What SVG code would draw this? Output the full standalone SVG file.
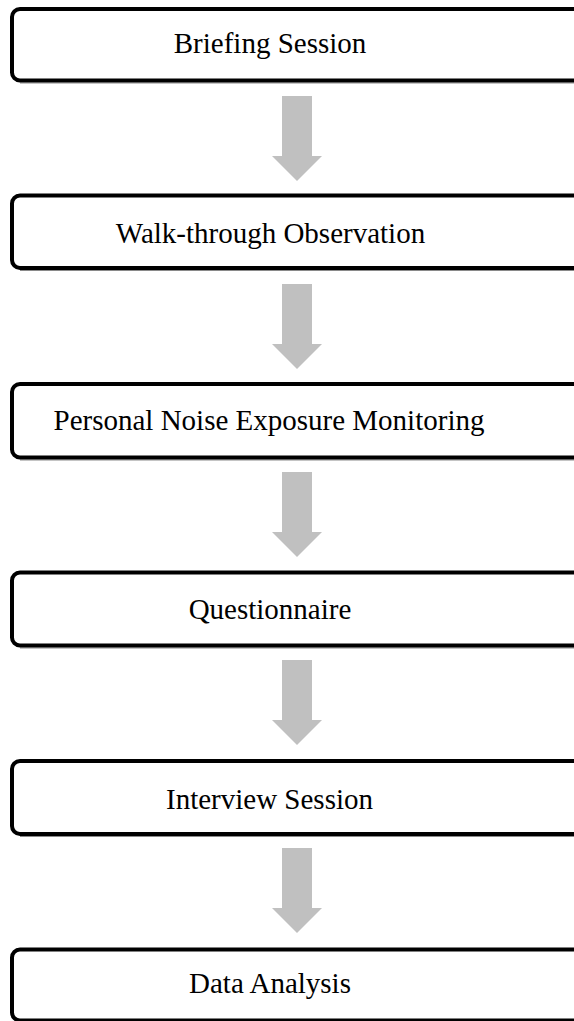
<svg xmlns="http://www.w3.org/2000/svg" width="574" height="1021" viewBox="0 0 574 1021">
<style>
.box{fill:#ffffff;stroke:#000000;stroke-width:4}
.shadow{fill:none;stroke:#8a8a8a;stroke-width:1}
.label{font-family:"Liberation Serif","Times New Roman",serif;font-size:29px;fill:#000000;text-anchor:middle}
.arrow{fill:#c0c0c0;stroke:none}
</style>
<rect width="574" height="1021" fill="#ffffff"/>
<g id="connectors">
<polygon class="arrow" points="282,96 312,96 312,156 322,156 297,181 272,156 282,156"/>
<polygon class="arrow" points="282,284 312,284 312,344 322,344 297,369 272,344 282,344"/>
<polygon class="arrow" points="282,472 312,472 312,532 322,532 297,557 272,532 282,532"/>
<polygon class="arrow" points="282,660 312,660 312,720 322,720 297,745 272,720 282,720"/>
<polygon class="arrow" points="282,848 312,848 312,908 322,908 297,933 272,908 282,908"/>
</g>
<g id="node1">
<line class="shadow" x1="20" y1="83" x2="574" y2="83"/>
<rect class="box" x="12" y="9" width="600" height="71.5" rx="8"/>
<text class="label" x="270" y="53">Briefing Session</text>
</g>
<g id="node2">
<line class="shadow" x1="20" y1="270.5" x2="574" y2="270.5"/>
<rect class="box" x="12" y="195.5" width="600" height="72.5" rx="8"/>
<text class="label" x="270.5" y="242.7">Walk-through Observation</text>
</g>
<g id="node3">
<line class="shadow" x1="20" y1="460" x2="574" y2="460"/>
<rect class="box" x="12" y="384" width="600" height="73.5" rx="8"/>
<text class="label" x="269" y="430">Personal Noise Exposure Monitoring</text>
</g>
<g id="node4">
<line class="shadow" x1="20" y1="648" x2="574" y2="648"/>
<rect class="box" x="12" y="572.5" width="600" height="73" rx="8"/>
<text class="label" x="270" y="619.3">Questionnaire</text>
</g>
<g id="node5">
<line class="shadow" x1="20" y1="836.5" x2="574" y2="836.5"/>
<rect class="box" x="12" y="761" width="600" height="73" rx="8"/>
<text class="label" x="269.5" y="809.3">Interview Session</text>
</g>
<g id="node6">
<rect class="box" x="12" y="949.5" width="600" height="71" rx="8"/>
<text class="label" x="270" y="992.7">Data Analysis</text>
</g>
</svg>
